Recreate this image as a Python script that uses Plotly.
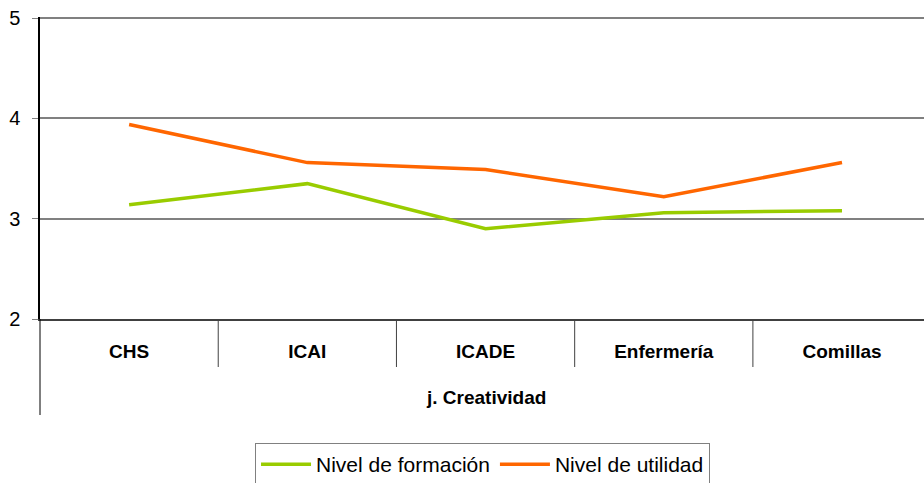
import plotly.graph_objects as go

categories = ["CHS", "ICAI", "ICADE", "Enfermería", "Comillas"]
formacion = [3.14, 3.35, 2.90, 3.06, 3.08]
utilidad = [3.94, 3.56, 3.49, 3.22, 3.56]
series_names = ["Nivel de formación", "Nivel de utilidad"]
group_label = "j. Creatividad"
y_ticks = [2, 3, 4, 5]

FONT = "Arial, Liberation Sans, sans-serif"

fig = go.Figure()
fig.add_trace(go.Scatter(x=categories, y=formacion, mode="lines", name=series_names[0],
                         line=dict(color="#99CC00", width=3.5)))
fig.add_trace(go.Scatter(x=categories, y=utilidad, mode="lines", name=series_names[1],
                         line=dict(color="#FF6600", width=3.5)))

TOP, BOT = 17, 164
plot_h = 483 - TOP - BOT
shapes = []
for i in range(len(categories) - 1):
    shapes.append(dict(type="line", xref="x", yref="paper", x0=i + 0.5, x1=i + 0.5,
                       y0=0, y1=-48 / plot_h, line=dict(color="#404040", width=1)))
shapes.append(dict(type="line", xref="paper", yref="paper", x0=0, x1=0,
                   y0=0, y1=-96 / plot_h, line=dict(color="#000000", width=1)))

fig.update_layout(
    width=924, height=483,
    margin=dict(l=40, r=0, t=TOP, b=BOT, autoexpand=False),
    paper_bgcolor="white", plot_bgcolor="white",
    font=dict(family=FONT, color="black"),
    showlegend=True,
    legend=dict(orientation="h", x=0.5006, xanchor="center", y=-124 / plot_h, yanchor="top",
                bordercolor="#808080", borderwidth=1, font=dict(size=21, family=FONT),
                itemwidth=50, tracegroupgap=0),
    xaxis=dict(type="category", range=[-0.5, 4.46], showgrid=False, zeroline=False,
               automargin=False,
               showline=True, linecolor="#404040", linewidth=2, ticks="",
               tickfont=dict(size=19, family=FONT, color="black"),
               tickvals=categories, ticktext=["<b>" + c + "</b>" for c in categories],
               ticklabelstandoff=14),
    yaxis=dict(range=[2, 5.012], tickvals=y_ticks, showgrid=True, gridcolor="#808080", gridwidth=2,
               automargin=False,
               zeroline=False, showline=True, linecolor="#000000", linewidth=1.5,
               ticks="outside", ticklen=6, tickcolor="#808080", tickwidth=1,
               tickfont=dict(size=20, family=FONT), ticklabelstandoff=8),
    shapes=shapes,
    annotations=[dict(text="<b>" + group_label + "</b>", xref="x", x=2, yref="paper",
                      y=-78 / plot_h, yanchor="middle", xanchor="center", showarrow=False,
                      font=dict(size=19, family=FONT, color="black"))],
)

fig.write_html("out.html", config={"displayModeBar": False},
               post_script="document.body.style.margin='0';document.body.style.overflow='hidden';")
